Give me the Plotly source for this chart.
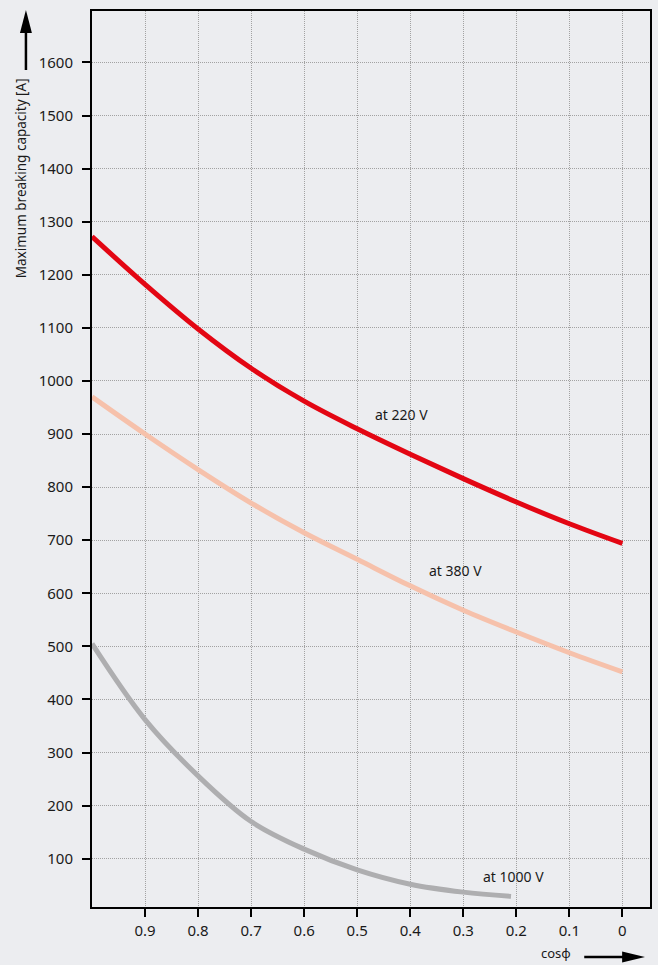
import plotly.graph_objects as go

# ---- data ----
cos_phi = [1.0, 0.9, 0.8, 0.7, 0.6, 0.5, 0.4, 0.3, 0.2, 0.1, 0.0]
cap_220 = [1272, 1182, 1098, 1024, 962, 910, 862, 816, 772, 731, 694]
cap_380 = [970, 900, 833, 770, 714, 664, 614, 568, 527, 488, 452]
cos_phi_1000 = [1.0, 0.9, 0.8, 0.7, 0.6, 0.5, 0.4, 0.3, 0.21]
cap_1000 = [505, 362, 256, 170, 118, 79, 52, 37, 29]

x_tick_vals = [0.9, 0.8, 0.7, 0.6, 0.5, 0.4, 0.3, 0.2, 0.1, 0.0]
x_tick_text = ["0.9", "0.8", "0.7", "0.6", "0.5", "0.4", "0.3", "0.2", "0.1", "0"]
y_tick_vals = [100, 200, 300, 400, 500, 600, 700, 800, 900, 1000, 1100, 1200, 1300, 1400, 1500, 1600]

labels = [("at 220 V", 0.417, 936), ("at 380 V", 0.314, 643), ("at 1000 V", 0.205, 67)]

W, H = 658, 965
L, R, T, B = 92, 652, 11, 907
BG = "#ECEDF0"
FONT = "Noto Sans"
TXT = "#1a1a1a"

fig = go.Figure()
fig.add_trace(go.Scatter(x=cos_phi, y=cap_220, mode="lines", line=dict(color="#E30613", width=5, shape="spline"), name="220 V"))
fig.add_trace(go.Scatter(x=cos_phi, y=cap_380, mode="lines", line=dict(color="#F6C1AB", width=5, shape="spline"), name="380 V"))
fig.add_trace(go.Scatter(x=cos_phi_1000, y=cap_1000, mode="lines", line=dict(color="#AEAEB0", width=5, shape="spline"), name="1000 V"))

for txt, xv, yv in labels:
    fig.add_annotation(x=xv, y=yv, text=txt, showarrow=False, font=dict(family=FONT, size=14, color=TXT))

def px(xp):
    return (xp - L) / (R - L)

def py(yp):
    return (B - yp) / (B - T)

# y-axis title (rotated) with arrow
fig.add_annotation(xref="paper", yref="paper", x=px(21), y=py(178), xanchor="center", yanchor="middle",
                   text="Maximum breaking capacity [A]",
                   textangle=-90, showarrow=False, font=dict(family=FONT, size=13.5, color=TXT))
fig.add_shape(type="line", xref="paper", yref="paper", x0=px(25.7), x1=px(25.7), y0=py(70), y1=py(30),
              line=dict(color="black", width=2.5))
fig.add_shape(type="path", xref="paper", yref="paper",
              path=f"M {px(25.7)} {py(10)} L {px(19.7)} {py(33)} L {px(31.7)} {py(33)} Z",
              fillcolor="black", line=dict(color="black", width=0))

# x-axis title with arrow
fig.add_annotation(xref="paper", yref="paper", x=px(558), y=py(953), xanchor="center", yanchor="middle",
                   text="cosφ", showarrow=False, font=dict(family=FONT, size=13, color=TXT))
fig.add_shape(type="line", xref="paper", yref="paper", x0=px(586), x1=px(627), y0=py(957), y1=py(957),
              line=dict(color="black", width=2.5))
fig.add_shape(type="path", xref="paper", yref="paper",
              path=f"M {px(647)} {py(957)} L {px(624)} {py(951.5)} L {px(624)} {py(962.5)} Z",
              fillcolor="black", line=dict(color="black", width=0))

fig.update_layout(
    width=W, height=H,
    margin=dict(l=L, r=W - R, t=T, b=H - B, pad=0),
    paper_bgcolor=BG, plot_bgcolor=BG,
    showlegend=False,
    font=dict(family=FONT, size=15, color=TXT),
)
fig.update_xaxes(range=[1.0, -0.052], tickvals=x_tick_vals, ticktext=x_tick_text,
                 showgrid=True, gridcolor="#a2a2a2", griddash="1px,1px", gridwidth=1,
                 showline=True, linecolor="black", linewidth=2, mirror=True,
                 ticks="outside", ticklen=8, tickwidth=2, tickcolor="black",
                 ticklabelstandoff=1, zeroline=False, tickfont=dict(size=15))
fig.update_yaxes(range=[9, 1697], tickvals=y_tick_vals,
                 showgrid=True, gridcolor="#a2a2a2", griddash="1px,1px", gridwidth=1,
                 showline=True, linecolor="black", linewidth=2, mirror=True,
                 ticks="outside", ticklen=8, tickwidth=2, tickcolor="black",
                 ticklabelstandoff=6, zeroline=False, tickfont=dict(size=15))

fig.write_html(
    "out.html",
    config={"displayModeBar": False},
    post_script="document.body.style.margin='0';document.body.style.background='#ECEDF0';"
                "document.documentElement.style.overflow='hidden';",
)
